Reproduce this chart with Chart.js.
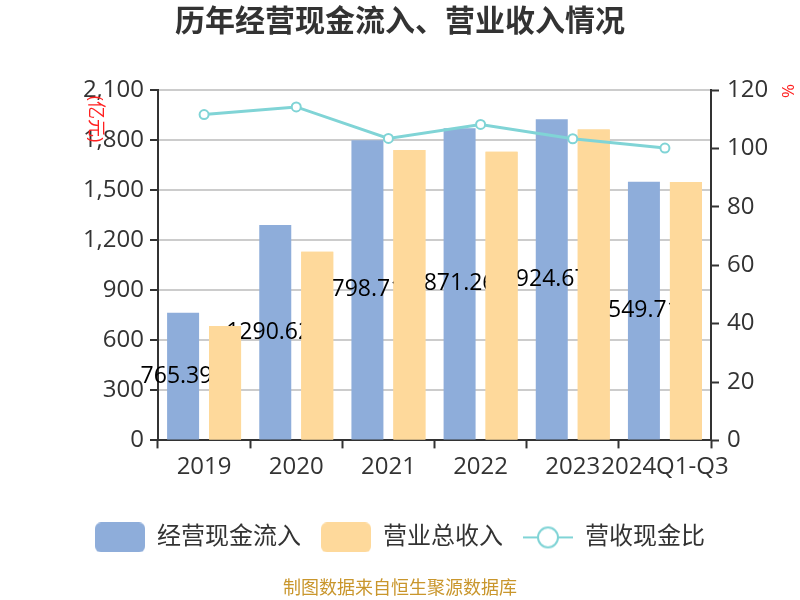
<!DOCTYPE html>
<html>
<head>
<meta charset="utf-8">
<script src="https://cdn.jsdelivr.net/npm/chart.js@4/dist/chart.umd.min.js"></script>
<style>
	body { margin: 0; background: #fff; }
	canvas { display: block; }
</style>
</head>
<body>
<canvas id="cashChart" width="800" height="600"></canvas>
<script>
const FONT = "'Open Sans', 'Noto Sans CJK SC', sans-serif";

// data (亿元 / %)
const years = ['2019', '2020', '2021', '2022', '2023', '2024Q1-Q3'];
const cashIn = [765.394, 1290.626, 1798.715, 1871.262, 1924.674, 1549.718];
const revenue = [686, 1130, 1740, 1730, 1864, 1548];
const cashRatio = [111.6, 114.2, 103.4, 108.2, 103.3, 100.1];
const seriesNames = ['经营现金流入', '营业总收入', '营收现金比'];

const blue = '#8eadda';
const orange = '#fed99b';
const teal = '#80d4d6';

// legend icons
function boxIcon(color) {
	const c = document.createElement('canvas');
	c.width = 50;
	c.height = 30;
	const g = c.getContext('2d');
	g.fillStyle = color;
	g.beginPath();
	g.roundRect(0, 0, 50, 30, 6);
	g.fill();
	return c;
}
function lineIcon(color) {
	const c = document.createElement('canvas');
	c.width = 50;
	c.height = 24;
	const g = c.getContext('2d');
	g.strokeStyle = color;
	g.lineWidth = 2;
	g.beginPath();
	g.moveTo(0, 12);
	g.lineTo(50, 12);
	g.stroke();
	g.beginPath();
	g.arc(25, 12, 10, 0, Math.PI * 2);
	g.fillStyle = '#fff';
	g.fill();
	g.stroke();
	return c;
}
const icons = [boxIcon(blue), boxIcon(orange), lineIcon(teal)];

// values printed on the blue bars; the orange bars then go back over them
const barLabels = {
	id: 'barLabels',
	afterDatasetDraw(chart, args) {
		if (args.index !== 0) return;
		const ctx = chart.ctx;
		ctx.save();
		ctx.font = '23px ' + FONT;
		ctx.fillStyle = '#000';
		ctx.textAlign = 'center';
		ctx.textBaseline = 'middle';
		args.meta.data.forEach(function (bar, i) {
			ctx.fillText(cashIn[i].toFixed(3), bar.x, (bar.y + bar.base) / 2);
		});
		ctx.restore();
		chart.getDatasetMeta(1).data.forEach(function (bar) {
			bar.draw(ctx, chart.chartArea);
		});
	},
};

// unit names beside the two value axes
const unitTitles = {
	id: 'unitTitles',
	afterDraw(chart) {
		const ctx = chart.ctx;
		ctx.save();
		ctx.fillStyle = '#ff2020';
		ctx.font = '18px ' + FONT;
		ctx.textAlign = 'center';
		ctx.textBaseline = 'middle';
		ctx.translate(95, 119);
		ctx.rotate(Math.PI / 2);
		ctx.fillText('(亿元)', 0, 0);
		ctx.restore();
		ctx.save();
		ctx.fillStyle = '#ff2020';
		ctx.font = '17px ' + FONT;
		ctx.textAlign = 'center';
		ctx.textBaseline = 'middle';
		ctx.translate(787, 91);
		ctx.rotate(Math.PI / 2);
		ctx.fillText('%', 0, 0);
		ctx.restore();
	},
};

const ctx = document.getElementById('cashChart').getContext('2d');

new Chart(ctx, {
	type: 'bar',
	data: {
		labels: years,
		datasets: [
			{
				label: seriesNames[0],
				data: cashIn,
				backgroundColor: blue,
				yAxisID: 'y',
				order: 1,
				categoryPercentage: 0.911,
				barPercentage: 0.762,
			},
			{
				label: seriesNames[1],
				data: revenue,
				backgroundColor: orange,
				yAxisID: 'y',
				order: 2,
				categoryPercentage: 0.911,
				barPercentage: 0.762,
			},
			{
				type: 'line',
				label: seriesNames[2],
				data: cashRatio,
				yAxisID: 'y1',
				order: 0,
				borderColor: teal,
				borderWidth: 3,
				pointRadius: 4.5,
				pointBorderWidth: 2,
				pointBackgroundColor: '#fff',
				pointBorderColor: teal,
				tension: 0,
			},
		],
	},
	options: {
		responsive: false,
		animation: false,
		devicePixelRatio: 1,
		layout: { padding: 0 },
		plugins: {
			title: {
				display: true,
				text: '历年经营现金流入、营业收入情况',
				color: '#333',
				font: { family: FONT, size: 30, weight: 'bold' },
				padding: { top: 4, bottom: 50 },
			},
			subtitle: {
				display: true,
				position: 'bottom',
				text: '制图数据来自恒生聚源数据库',
				color: '#c9962c',
				font: { family: FONT, size: 18 },
				padding: { top: 19, bottom: 0 },
			},
			legend: {
				position: 'bottom',
				labels: {
					usePointStyle: true,
					pointStyleWidth: 50,
					padding: 20,
					color: '#333',
					font: { family: FONT, size: 24 },
					generateLabels: function (chart) {
						return chart.data.datasets.map(function (ds, i) {
							return {
								text: ds.label,
								pointStyle: icons[i],
								fillStyle: 'transparent',
								strokeStyle: 'transparent',
								lineWidth: 0,
								fontColor: '#333',
								hidden: !chart.isDatasetVisible(i),
								datasetIndex: i,
							};
						});
					},
				},
			},
			tooltip: { enabled: false },
		},
		scales: {
			x: {
				afterFit: function (scale) { scale.height = 65; },
				grid: {
					offset: true,
					drawOnChartArea: false,
					tickLength: 8,
					tickColor: '#333',
					tickWidth: 2,
				},
				border: { color: '#333', width: 2 },
				ticks: {
					autoSkip: false,
					maxRotation: 0,
					padding: 4,
					color: '#333',
					font: { family: FONT, size: 24 },
				},
			},
			y: {
				position: 'left',
				min: 0,
				max: 2100,
				afterFit: function (scale) { scale.width = 158; },
				grid: {
					color: '#cccccc',
					lineWidth: 2,
					tickLength: 8,
					tickColor: '#333',
					tickWidth: 2,
				},
				border: { color: '#333', width: 2 },
				ticks: {
					stepSize: 300,
					padding: 6,
					color: '#333',
					font: { family: FONT, size: 24 },
				},
			},
			y1: {
				position: 'right',
				min: 0,
				max: 120,
				afterFit: function (scale) { scale.width = 89; },
				grid: {
					drawOnChartArea: false,
					tickLength: 8,
					tickColor: '#333',
					tickWidth: 2,
				},
				border: { color: '#333', width: 2 },
				ticks: {
					stepSize: 20,
					padding: 8,
					color: '#333',
					font: { family: FONT, size: 24 },
				},
			},
		},
	},
	plugins: [barLabels, unitTitles],
});
</script>
</body>
</html>
